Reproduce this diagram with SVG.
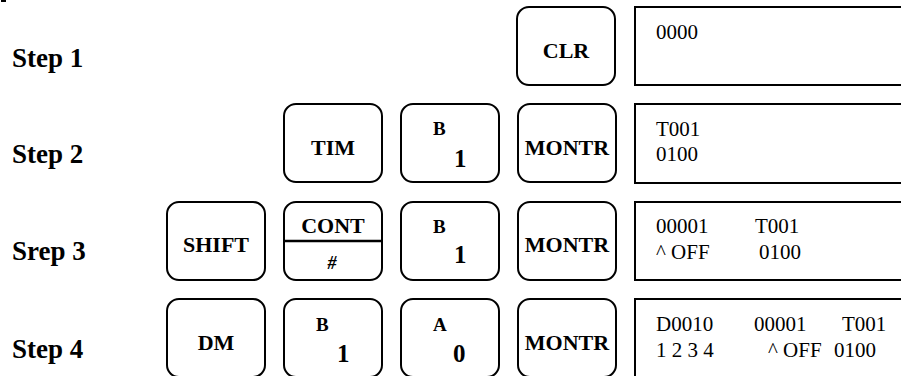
<svg xmlns="http://www.w3.org/2000/svg" width="901" height="376" viewBox="0 0 901 376">
<style>
.key{fill:#fff;stroke:#000;stroke-width:2}
.box{fill:#fff;stroke:#000;stroke-width:2}
.step{font-family:"Liberation Serif","Times New Roman",serif;font-weight:bold;font-size:27px;fill:#000}
.kl{font-family:"Liberation Serif","Times New Roman",serif;font-weight:bold;font-size:22px;fill:#000;text-anchor:middle}
.sm{font-family:"Liberation Serif","Times New Roman",serif;font-weight:bold;font-size:19px;fill:#000}
.big{font-family:"Liberation Serif","Times New Roman",serif;font-weight:bold;font-size:25px;fill:#000}
.hash{font-family:"Liberation Serif","Times New Roman",serif;font-weight:bold;font-style:italic;font-size:18px;fill:#000;text-anchor:middle}
.disp{font-family:"Liberation Serif","Times New Roman",serif;font-size:21px;fill:#000}
</style>
<rect x="1" y="0" width="5" height="2" fill="#000"/>
<g id="labels">
<text class="step" x="12" y="67">Step 1</text>
<text class="step" x="12" y="163">Step 2</text>
<text class="step" x="12" y="260">Srep 3</text>
<text class="step" x="12" y="358">Step 4</text>
</g>
<g id="connectors"/>
<!-- Row 1 -->
<g id="key-clr"><rect class="key" x="517" y="7" width="98" height="78" rx="12"/><text class="kl" x="566" y="58">CLR</text></g>
<g id="disp-1"><rect class="box" x="635" y="7" width="300" height="78"/><text class="disp" x="656" y="39">0000</text></g>
<!-- Row 2 -->
<g id="key-tim"><rect class="key" x="284" y="104" width="98" height="78" rx="12"/><text class="kl" x="333" y="155">TIM</text></g>
<g id="key-b1-r2"><rect class="key" x="401" y="104" width="98" height="78" rx="12"/><text class="sm" x="433" y="135">B</text><text class="big" x="454" y="167">1</text></g>
<g id="key-montr-r2"><rect class="key" x="518" y="104" width="98" height="78" rx="12"/><text class="kl" x="567" y="155">MONTR</text></g>
<g id="disp-2"><rect class="box" x="635" y="104" width="300" height="79"/><text class="disp" x="656" y="136">T001</text><text class="disp" x="656" y="161">0100</text></g>
<!-- Row 3 -->
<g id="key-shift"><rect class="key" x="167" y="202" width="98" height="78" rx="12"/><text class="kl" x="216" y="252">SHIFT</text></g>
<g id="key-cont"><rect class="key" x="284" y="202" width="98" height="78" rx="12"/><line x1="284" y1="241" x2="382" y2="241" stroke="#000" stroke-width="2.5"/><text class="kl" x="333" y="233">CONT</text><text class="hash" x="332" y="269">#</text></g>
<g id="key-b1-r3"><rect class="key" x="401" y="202" width="98" height="78" rx="12"/><text class="sm" x="433" y="233">B</text><text class="big" x="454" y="263">1</text></g>
<g id="key-montr-r3"><rect class="key" x="518" y="202" width="98" height="78" rx="12"/><text class="kl" x="567" y="252">MONTR</text></g>
<g id="disp-3"><rect class="box" x="635" y="202" width="300" height="78"/>
<text class="disp" x="656" y="233">00001</text><text class="disp" x="755" y="233">T001</text>
<text class="disp" x="656" y="259">^ OFF</text><text class="disp" x="759" y="259">0100</text></g>
<!-- Row 4 -->
<g id="key-dm"><rect class="key" x="167" y="299" width="98" height="78" rx="12"/><text class="kl" x="216" y="350">DM</text></g>
<g id="key-b1-r4"><rect class="key" x="284" y="299" width="98" height="78" rx="12"/><text class="sm" x="316" y="331">B</text><text class="big" x="337" y="362">1</text></g>
<g id="key-a0"><rect class="key" x="401" y="299" width="98" height="78" rx="12"/><text class="sm" x="433" y="331">A</text><text class="big" x="453" y="362">0</text></g>
<g id="key-montr-r4"><rect class="key" x="518" y="299" width="98" height="78" rx="12"/><text class="kl" x="567" y="350">MONTR</text></g>
<g id="disp-4"><rect class="box" x="635" y="299" width="300" height="80"/>
<text class="disp" x="656" y="331">D0010</text><text class="disp" x="754" y="331">00001</text><text class="disp" x="842" y="331">T001</text>
<text class="disp" x="656" y="357">1 2 3 4</text><text class="disp" x="768" y="357">^ OFF</text><text class="disp" x="834" y="357">0100</text></g>
</svg>
